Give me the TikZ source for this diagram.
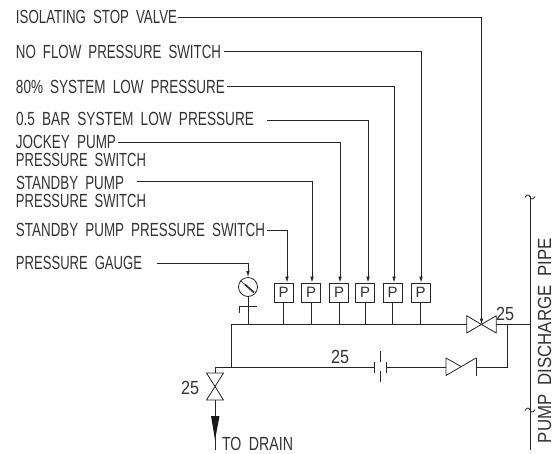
\documentclass[tikz,border=0pt]{standalone}
\usepackage{fontspec}
\usepackage{graphicx}
\setmainfont[WordSpace=1.9]{Liberation Sans}
\usetikzlibrary{arrows.meta}
\newcommand{\wtxt}[2]{\resizebox{#1pt}{\height}{#2}}
\tikzset{
  pipeline/.style={line width=0.8pt,draw=black!85},
  sig/.style={pipeline,-{Latex[length=6pt,width=3.6pt]}},
  lbl/.style={anchor=base west,inner sep=0pt,outer sep=0pt,text=black!80,font=\fontsize{19}{19}\selectfont},
  pbox/.style={draw=black!85,line width=0.8pt,minimum width=19pt,minimum height=19pt,inner sep=0pt,text=black!80,font=\fontsize{15}{15}\selectfont},
}
\begin{document}
\begin{tikzpicture}[x=1pt,y=-1pt]
\useasboundingbox (0,0) rectangle (559,453);
% labels
\node[lbl] (l1) at (16,23) {\wtxt{161}{ISOLATING STOP VALVE}};
\node[lbl] (l2) at (16,58) {\wtxt{205}{NO FLOW PRESSURE SWITCH}};
\node[lbl] (l3) at (16,93) {\wtxt{209}{80\% SYSTEM LOW PRESSURE}};
\node[lbl] (l4) at (16,125) {\wtxt{238}{0.5 BAR SYSTEM LOW PRESSURE}};
\node[lbl] (l5) at (16,148.5) {\wtxt{100}{JOCKEY PUMP}};
\node[lbl] (l5b) at (16,166.5) {\wtxt{130}{PRESSURE SWITCH}};
\node[lbl] (l6) at (16,189) {\wtxt{108}{STANDBY PUMP}};
\node[lbl] (l6b) at (16,207) {\wtxt{130}{PRESSURE SWITCH}};
\node[lbl] (l7) at (16,236) {\wtxt{249}{STANDBY PUMP PRESSURE SWITCH}};
\node[lbl] (l8) at (16,269) {\wtxt{126}{PRESSURE GAUGE}};
\node[lbl] (d25a) at (331,363) {\wtxt{18}{25}};
\node[lbl] (d25b) at (181,394) {\wtxt{18}{25}};
\node[lbl] (d25c) at (496,320.5) {\wtxt{18}{25}};
\node[lbl] (drain) at (222,450.5) {\wtxt{71}{TO DRAIN}};
\node[lbl,rotate=90] (pipe) at (551,443) {\wtxt{205}{PUMP DISCHARGE PIPE}};
% P boxes
\node[pbox] (p1) at (283.5,292.5) {P};
\node[pbox] (p2) at (311,292.5) {P};
\node[pbox] (p3) at (339,292.5) {P};
\node[pbox] (p4) at (365,292.5) {P};
\node[pbox] (p5) at (392.5,292.5) {P};
\node[pbox] (p6) at (420.5,292.5) {P};
% gauge
\node[draw=black!85,line width=0.8pt,circle,minimum size=19pt,inner sep=0pt] (g) at (248,287) {};
% key coordinates
\coordinate (mL) at (231,324);
\coordinate (vL) at (466.7,324);
\coordinate (vC) at (481.5,324.5);
\coordinate (vR) at (496.3,324);
\coordinate (pj) at (530,324);
\coordinate (bL) at (231,367);
\coordinate (dT) at (215,373);
\coordinate (dB) at (215,400);
\coordinate (dE) at (215,450);
\coordinate (capL) at (374,367);
\coordinate (capR) at (386,367);
\coordinate (chkL) at (446,367);
\coordinate (chkR) at (476,367);
\coordinate (rj) at (507,324);
% signal lines
\coordinate (s1) at (178,17);
\coordinate (s2) at (224,51);
\coordinate (s3) at (227,86);
\coordinate (s4) at (267,120);
\coordinate (s5) at (118,142);
\coordinate (s6) at (137,181);
\coordinate (s7) at (267,230);
\coordinate (s8) at (157,263);
\draw[sig] (s1) -| (vC);
\draw[sig] (s2) -| ([xshift=0.5pt]p6.north);
\draw[sig] (s3) -| ([xshift=1.5pt]p5.north);
\draw[sig] (s4) -| ([xshift=3pt]p4.north);
\draw[sig] (s5) -| ([xshift=1pt]p3.north);
\draw[sig] (s6) -| ([xshift=1pt]p2.north);
\draw[sig] (s7) -| ([xshift=3.5pt]p1.north);
\draw[sig] (s8) -| (g.north);
% main pipework
\draw[pipeline] (vL) -- (mL) -- (bL);
\draw[pipeline] (vR) -- (pj);
\foreach \n in {1,...,6} \draw[pipeline] (p\n.south) -- (p\n.south |- mL);
\draw[pipeline] (g.south) -- (g.south |- mL);
\draw[pipeline] (239,313) -- (239,306) -- (257,306);
\draw[pipeline] (dT) -- (215,367) -- (capL);
\draw[pipeline] (capR) -- (chkL);
\draw[pipeline] (chkR) -- (507,367) -- (rj);
% gauge needle
\draw[line width=0.6pt,black!85] (240.5,280.5) -- (245,284.5);
\draw[line width=1.6pt,black!85] (245,284.5) -- (254,292.5);
% isolating valve
\draw[pipeline,line join=miter] (vC) -- (466.7,315.7) -- (466.7,333) -- (496.3,315.7) -- (496.3,333) -- cycle;
% capacitor-like orifice
\draw[pipeline] (374,362) -- (374,373);
\draw[pipeline] (386,362) -- (386,373);
\draw[pipeline] (380,350.5) -- (380,362);
\draw[pipeline] (380,371) -- (380,382);
% check valve
\draw[pipeline] (461,366.5) -- (446,358) -- (446,375.5) -- (476,358);
\draw[pipeline] (476,358) -- (476,375.5);
% drain valve
\draw[pipeline] (206.5,373) -- (223.5,373) -- (206.5,400) -- (223.5,400) -- cycle;
\draw[pipeline] (dB) -- (dE);
\fill[black!90] (211,416) -- (219.5,416) -- (215,440) -- cycle;
% discharge pipe
\draw[pipeline] (530,196) -- (530,450);
\draw[pipeline] (525,197.5) .. controls (527,194) and (529,194.5) .. (530,197) .. controls (531,199.5) and (533,200) .. (535,196.5);
\draw[pipeline] (525,410.5) .. controls (527,407) and (529,407.5) .. (530,410) .. controls (531,412.5) and (533,413) .. (535,409.5);
\end{tikzpicture}
\end{document}
